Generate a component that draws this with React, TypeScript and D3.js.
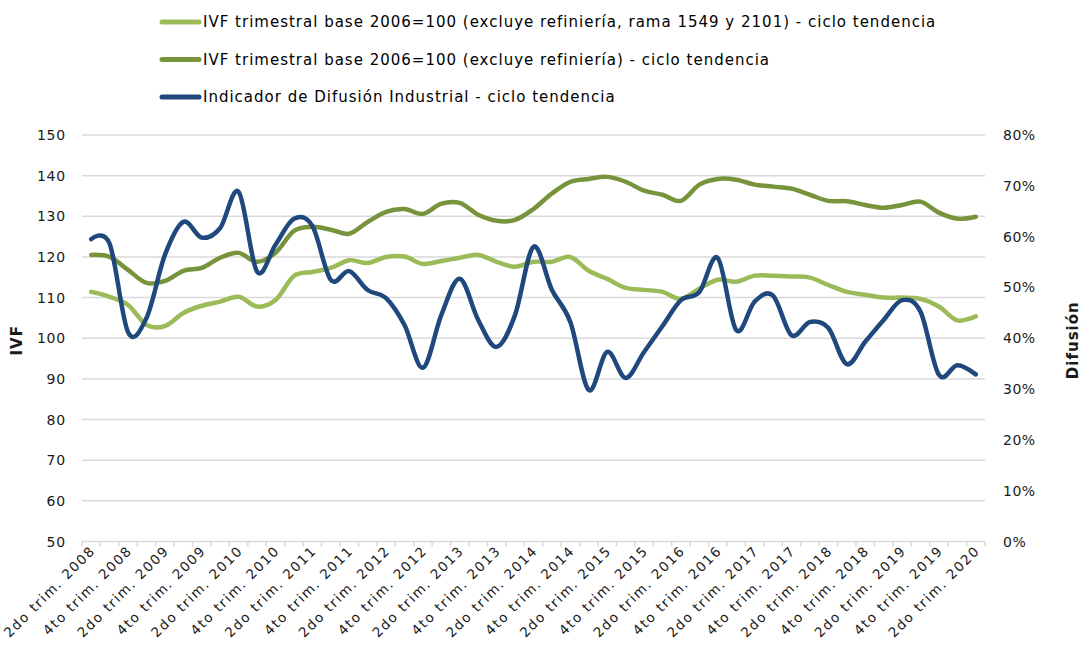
import React from "react";
import * as d3 from "d3";

const quarters = [
  "2do trim. 2008","3er trim. 2008","4to trim. 2008",
  "1er trim. 2009","2do trim. 2009","3er trim. 2009","4to trim. 2009",
  "1er trim. 2010","2do trim. 2010","3er trim. 2010","4to trim. 2010",
  "1er trim. 2011","2do trim. 2011","3er trim. 2011","4to trim. 2011",
  "1er trim. 2012","2do trim. 2012","3er trim. 2012","4to trim. 2012",
  "1er trim. 2013","2do trim. 2013","3er trim. 2013","4to trim. 2013",
  "1er trim. 2014","2do trim. 2014","3er trim. 2014","4to trim. 2014",
  "1er trim. 2015","2do trim. 2015","3er trim. 2015","4to trim. 2015",
  "1er trim. 2016","2do trim. 2016","3er trim. 2016","4to trim. 2016",
  "1er trim. 2017","2do trim. 2017","3er trim. 2017","4to trim. 2017",
  "1er trim. 2018","2do trim. 2018","3er trim. 2018","4to trim. 2018",
  "1er trim. 2019","2do trim. 2019","3er trim. 2019","4to trim. 2019",
  "1er trim. 2020","2do trim. 2020",
];

// IVF (excluye refinería, rama 1549 y 2101) - ciclo tendencia
const ivfSinRamas = [
  111.4,110.2,108.2,103.3,103.0,106.2,108.0,109.0,110.2,107.8,109.4,
  115.3,116.3,117.3,119.2,118.5,120.0,120.1,118.3,119.0,119.8,120.5,
  118.8,117.6,118.8,118.8,120.0,116.6,114.6,112.4,111.9,111.4,109.7,
  112.2,114.4,113.9,115.4,115.4,115.2,114.9,113.1,111.4,110.7,110.0,
  110.0,109.7,107.8,104.4,105.4,
];

// IVF (excluye refinería) - ciclo tendencia
const ivfSinRefineria = [
  120.5,120.0,116.8,113.6,114.1,116.6,117.3,119.8,121.0,118.8,121.0,
  126.4,127.4,126.7,125.7,128.6,131.1,131.8,130.6,133.1,133.3,130.4,
  128.9,129.1,131.8,135.6,138.5,139.2,139.7,138.5,136.3,135.3,133.8,
  137.8,139.2,139.0,137.8,137.3,136.8,135.3,133.8,133.7,132.8,132.1,
  132.8,133.6,130.9,129.4,129.9,
];

// Indicador de Difusión Industrial (%) - ciclo tendencia
const difusion = [
  59.5,58.6,41.2,44.0,56.4,62.9,59.8,61.7,68.8,53.1,58.4,
  63.5,62.1,51.5,53.2,49.5,47.9,42.6,34.2,44.6,51.7,43.6,
  38.3,44.6,58.0,49.5,43.2,29.8,37.3,32.2,37.3,42.4,47.5,
  49.1,55.8,41.6,47.2,48.4,40.6,43.2,42.0,34.9,39.3,43.6,
  47.5,45.2,32.8,34.7,32.9,
];

const leftTicks = [50, 60, 70, 80, 90, 100, 110, 120, 130, 140, 150];
const rightTicks = [0, 10, 20, 30, 40, 50, 60, 70, 80];

const legendItems = [
  { label: "IVF trimestral base 2006=100 (excluye refiniería, rama 1549 y 2101) - ciclo tendencia", color: "#9BBB59" },
  { label: "IVF trimestral base 2006=100 (excluye refiniería) - ciclo tendencia", color: "#77933C" },
  { label: "Indicador de Difusión Industrial - ciclo tendencia", color: "#1F497D" },
];

const W = 1084;
const H = 646;
const plot = { left: 82, right: 985, top: 135, bottom: 541.5 };
const FONT = "'DejaVu Sans', sans-serif";

export default function App() {
  const x = d3.scaleBand<string>().domain(quarters).range([plot.left, plot.right]).padding(0);
  const cx = (q: string) => (x(q) as number) + x.bandwidth() / 2;
  const yL = d3.scaleLinear().domain([50, 150]).range([plot.bottom, plot.top]);
  const yR = d3.scaleLinear().domain([0, 80]).range([plot.bottom, plot.top]);

  const curve = d3.curveCatmullRom.alpha(0);
  const lineL = d3.line<number>().x((_, i) => cx(quarters[i])).y((d) => yL(d)).curve(curve);
  const lineR = d3.line<number>().x((_, i) => cx(quarters[i])).y((d) => yR(d)).curve(curve);

  const tickPositions = quarters.map((q) => x(q) as number).concat([plot.right]);

  return (
    <svg width={W} height={H} style={{ position: "absolute", left: 0, top: 0, background: "#fff" }} fontFamily={FONT}>
      {/* legend */}
      {legendItems.map((it, i) => {
        const ly = 22 + i * 37.5;
        return (
          <g key={i}>
            <line x1={162} x2={199} y1={ly} y2={ly} stroke={it.color} strokeWidth={5} strokeLinecap="round" />
            <text x={203} y={ly} dy="0.36em" fontSize={15} letterSpacing={1} fill="#000">{it.label}</text>
          </g>
        );
      })}

      {/* gridlines */}
      {leftTicks.map((t) => (
        <line key={t} x1={plot.left} x2={plot.right} y1={yL(t)} y2={yL(t)} stroke="#D9D9D9" strokeWidth={1.5} />
      ))}
      {/* x ticks */}
      {tickPositions.map((p, i) => (
        <line key={i} x1={p} x2={p} y1={plot.bottom} y2={plot.bottom + 5} stroke="#D9D9D9" strokeWidth={1.5} />
      ))}

      {/* left axis labels */}
      {leftTicks.map((t) => (
        <text key={t} x={66} y={yL(t)} dy="0.36em" textAnchor="end" fontSize={14} letterSpacing={0.8} fill="#1a1a1a">{t}</text>
      ))}
      {/* right axis labels */}
      {rightTicks.map((t) => (
        <text key={t} x={1003} y={yR(t)} dy="0.36em" textAnchor="start" fontSize={14} letterSpacing={0.5} fill="#1a1a1a">{`${t}%`}</text>
      ))}

      {/* x labels */}
      {quarters.map((q, i) =>
        i % 2 === 0 ? (
          <text key={q} transform={`translate(${cx(q) + 5},${plot.bottom + 10}) rotate(-45)`} textAnchor="end" fontSize={13.5} letterSpacing={1.6} fill="#1a1a1a">{q}</text>
        ) : null
      )}

      {/* axis titles */}
      <text transform={`translate(22,${(plot.top + plot.bottom) / 2 + 2}) rotate(-90)`} textAnchor="middle" fontSize={15} fontWeight="bold" letterSpacing={1} fill="#1a1a1a">IVF</text>
      <text transform={`translate(1078,${(plot.top + plot.bottom) / 2 + 2}) rotate(-90)`} textAnchor="middle" fontSize={15} fontWeight="bold" letterSpacing={1} fill="#1a1a1a">Difusión</text>

      {/* series */}
      <path d={lineL(ivfSinRamas) || ""} fill="none" stroke="#9BBB59" strokeWidth={4.5} strokeLinecap="round" strokeLinejoin="round" />
      <path d={lineL(ivfSinRefineria) || ""} fill="none" stroke="#77933C" strokeWidth={4.5} strokeLinecap="round" strokeLinejoin="round" />
      <path d={lineR(difusion) || ""} fill="none" stroke="#1F497D" strokeWidth={4.5} strokeLinecap="round" strokeLinejoin="round" />
    </svg>
  );
}
